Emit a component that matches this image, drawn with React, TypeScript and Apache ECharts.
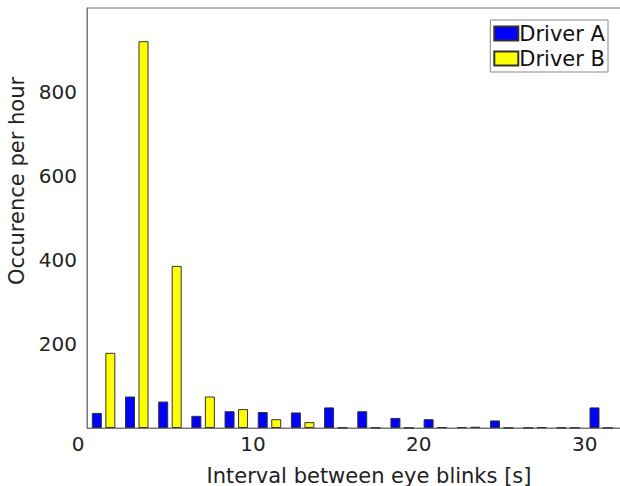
import React, { useEffect, useRef } from "react";
import * as echarts from "echarts";

const xCenters = [1, 3, 5, 7, 9, 11, 13, 15, 17, 19, 21, 23, 25, 27, 29, 31];
const driverA = [36, 75, 63, 29, 40, 38, 37, 49, 40, 24, 21, 2, 18, 0.5, 1, 49];
const driverB = [179, 921, 386, 75, 45, 21, 14, 1, 1, 0.5, 2, 3, 0.5, 2, 1, 0.5];

const FONT = "DejaVu Sans";

export default function App() {
  const ref = useRef<HTMLDivElement>(null);
  useEffect(() => {
    document.body.style.margin = "0";
    const chart = echarts.init(ref.current!, null, { renderer: "svg" });
    chart.setOption({
      animation: false,
      backgroundColor: "#ffffff",
      textStyle: { fontFamily: FONT },
      grid: {
        left: 87,
        top: 8,
        width: 564,
        bottom: 58,
        containLabel: false,
        outerBoundsMode: "none",
        show: true,
        borderColor: "#777",
        borderWidth: 1,
      },
      legend: {
        orient: "vertical",
        right: 12,
        top: 20,
        icon: "rect",
        itemWidth: 24,
        itemHeight: 14,
        itemGap: 4,
        padding: [3, 3, 3, 3],
        borderColor: "#888",
        borderWidth: 1,
        backgroundColor: "#fff",
        textStyle: { fontSize: 21, color: "#111", fontFamily: FONT, padding: [0, 0, 0, -4] },
        data: ["Driver A", "Driver B"],
      },
      xAxis: {
        type: "value",
        min: 0,
        max: 34,
        interval: 10,
        name: "Interval between eye blinks [s]",
        nameLocation: "middle",
        nameGap: 37,
        nameTextStyle: { fontSize: 21, color: "#222", fontFamily: FONT },
        axisLine: { show: true, onZero: false, lineStyle: { color: "#777" } },
        axisTick: { show: false },
        splitLine: { show: false },
        axisLabel: {
          fontSize: 20,
          color: "#222",
          margin: 6,
          showMaxLabel: false,
          hideOverlap: false,
          formatter: (v: number) => (v === 0 ? "{z|0}" : String(v)),
          rich: { z: { fontSize: 20, color: "#222", fontFamily: FONT, padding: [0, 18, 0, 0] } },
        },
      },
      yAxis: {
        type: "value",
        min: 0,
        max: 1000,
        interval: 200,
        name: "Occurence per hour",
        nameLocation: "middle",
        nameGap: 58,
        nameTextStyle: { fontSize: 21, color: "#222", fontFamily: FONT, padding: [0, 0, 0, 74] },
        axisLine: { show: true, lineStyle: { color: "#777" } },
        axisTick: { show: false },
        splitLine: { show: false },
        axisLabel: {
          fontSize: 20,
          color: "#222",
          margin: 10,
          hideOverlap: false,
          showMinLabel: false,
          showMaxLabel: false,
        },
      },
      series: [
        {
          name: "Driver A",
          type: "bar",
          data: xCenters.map((x, i) => [x, driverA[i]]),
          barWidth: 10,
          barGap: "35%",
          itemStyle: { color: "#0000ff", borderColor: "#333", borderWidth: 1 },
        },
        {
          name: "Driver B",
          type: "bar",
          data: xCenters.map((x, i) => [x, driverB[i]]),
          barWidth: 10,
          barGap: "35%",
          itemStyle: { color: "#ffff00", borderColor: "#333", borderWidth: 1 },
        },
      ],
    });
    return () => chart.dispose();
  }, []);
  return <div ref={ref} style={{ width: 620, height: 486 }} />;
}
